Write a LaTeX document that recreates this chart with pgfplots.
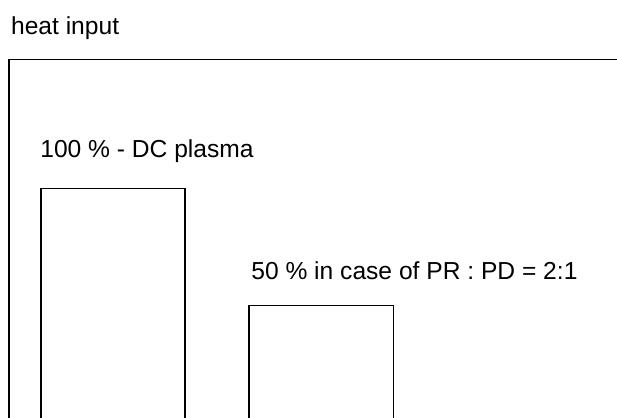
\documentclass[border=0pt]{standalone}
\usepackage{fontspec}
\setmainfont{Liberation Sans}
\usepackage{pgfplots}
\pgfplotsset{compat=1.18}
\begin{document}
\begin{tikzpicture}
\path (0,0) rectangle (617pt,417pt);
\clip (0,0) rectangle (617pt,417pt);
\begin{pgfinterruptboundingbox}
\begin{axis}[
  at={(8.9pt,-5.3pt)}, anchor=south west,
  x=208.3pt, y=2.34pt,
  xmin=0.5, xmax=3.5, ymin=0, ymax=155.1,
  xtick=\empty, ytick=\empty,
  axis line style={line width=1.4pt},
  ybar, bar width=144.3pt,
  clip=false,
]
\addplot[draw=black, fill=white, line width=1.5pt] coordinates {(1,100) (2,50)};
\node[anchor=base west, inner sep=0pt, font=\fontsize{24.6}{29}\selectfont] at (axis cs:0.65,113.1) {100 \% - DC plasma};
\node[anchor=base west, inner sep=0pt, font=\fontsize{24.6}{29}\selectfont] at (axis cs:1.663,60.9) {50 \% in case of PR : PD = 2:1};
\end{axis}
\end{pgfinterruptboundingbox}
\node[anchor=base west, inner sep=0pt, font=\fontsize{24.6}{29}\selectfont] at (10.9pt,382.7pt) {heat input};
\end{tikzpicture}
\end{document}
